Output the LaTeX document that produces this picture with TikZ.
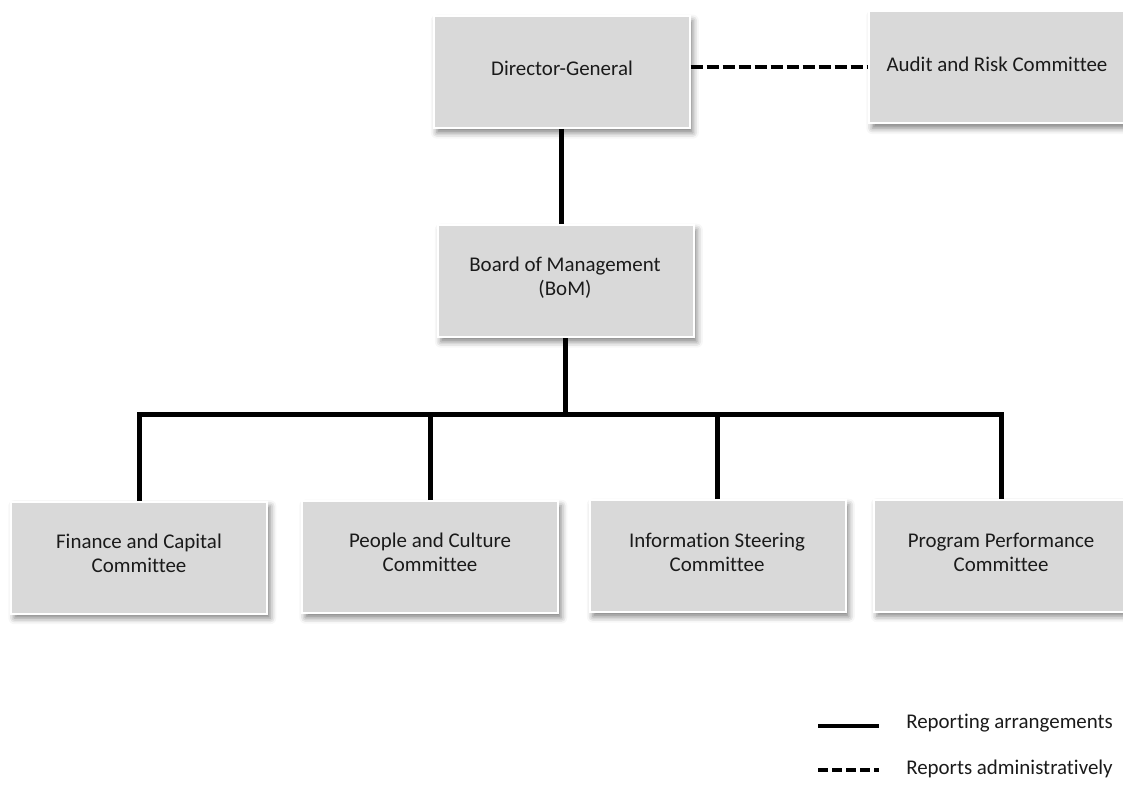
\documentclass[tikz,border=0pt]{standalone}
\usepackage{fontspec}
\setmainfont{Carlito}[Ligatures=NoCommon]
\usetikzlibrary{shadows.blur}
\definecolor{boxgray}{HTML}{D9D9D9}
\definecolor{txt}{HTML}{1A1A1A}
\begin{document}
\begin{tikzpicture}[x=0.75pt,y=-0.75pt,
  box/.style={draw=white, line width=1.5pt, fill=boxgray, minimum width=192pt, minimum height=84pt, inner sep=0pt,
    blur shadow={shadow xshift=2.5pt, shadow yshift=-3.5pt, shadow blur radius=4.5pt, shadow opacity=50}},
  lbl/.style={font=\fontsize{15.7}{18}\selectfont, text=txt, align=center, inner sep=0pt},
  solidline/.style={line width=3.75pt, black},
  dashline/.style={line width=3pt, black, dash pattern=on 9pt off 3pt},
]
\useasboundingbox (0,0) rectangle (1123,791);
\begin{scope}
\clip (0,0) rectangle (1123,791);
% boxes
\node[box] (dg)   at (561.5,72)  {};
\node[box] (arc)  at (997,67.5)  {};
\node[box] (bom)  at (565.5,281) {};
\node[box] (fin)  at (139,557.5) {};
\node[box] (ppl)  at (430,557)   {};
\node[box] (info) at (717.5,556) {};
\node[box] (prog) at (1001.5,555.5) {};
% texts
\node[lbl] (dgt)   at (562,68)   {Director-General};
\node[lbl] (arct)  at (997,64)   {Audit and Risk Committee};
\node[lbl] (bomt)  at (565,278)  {Board of Management\\(BoM)};
\node[lbl] (fint)  at (139,553)  {Finance and Capital\\Committee};
\node[lbl] (pplt)  at (430,552)  {People and Culture\\Committee};
\node[lbl] (infot) at (717,552)  {Information Steering\\Committee};
\node[lbl] (progt) at (1001,552) {Program Performance\\Committee};
% connectors
\draw[dashline] (dg.east |- arc.west) -- (arc.west);
\draw[solidline] (dg.south) -- (dg.south |- bom.north);
\coordinate (bus) at (565.5,414);
\draw[solidline] (bom.south) -- (bus);
\draw[solidline, line join=miter] (fin.north) |- (bus) -| (prog.north);
\draw[solidline] (ppl.north) -- (ppl.north |- bus);
\draw[solidline] (info.north) -- (info.north |- bus);
% legend
\coordinate (la1) at (818,726);
\coordinate (lb1) at (879,726);
\coordinate (la2) at (818,770);
\coordinate (lb2) at (879,770);
\draw[solidline, line width=3pt] (la1) -- (lb1);
\draw[line width=3pt, black, dash pattern=on 7.5pt off 3pt] (la2) -- (lb2);
\node[lbl, anchor=base west] (leg1) at (906,728) {Reporting arrangements};
\node[lbl, anchor=base west] (leg2) at (906,774) {Reports administratively};
\end{scope}
\end{tikzpicture}
\end{document}
